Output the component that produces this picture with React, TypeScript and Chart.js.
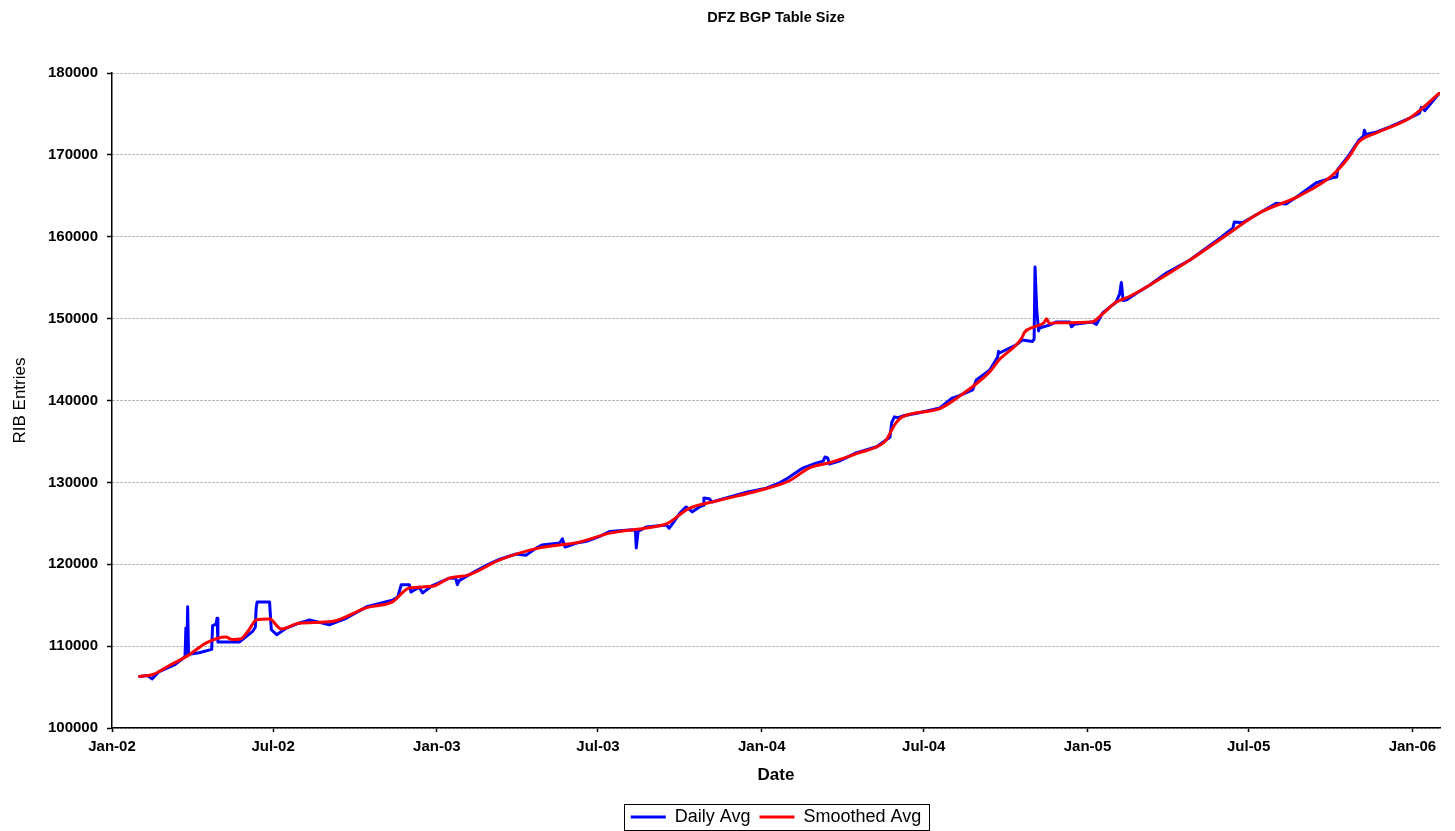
import React, { useEffect, useRef } from "react";
import { Chart, registerables } from "chart.js";

Chart.register(...registerables);

const titleText = "DFZ BGP Table Size";
const seriesNames = ["Daily Avg", "Smoothed Avg"];

const tickDates = [
  "2002-01-01", "2002-07-01", "2003-01-01", "2003-07-01", "2004-01-01",
  "2004-07-01", "2005-01-01", "2005-07-01", "2006-01-01",
];
const tickLabels = [
  "Jan-02", "Jul-02", "Jan-03", "Jul-03", "Jan-04", "Jul-04", "Jan-05", "Jul-05", "Jan-06",
];

const dailyDates = [
  "2002-02-01", "2002-02-10", "2002-02-15", "2002-02-23", "2002-03-12", "2002-03-24", "2002-03-25", "2002-03-26",
  "2002-03-27", "2002-03-28", "2002-04-09", "2002-04-23", "2002-04-24", "2002-04-28", "2002-04-29", "2002-04-30",
  "2002-05-24", "2002-06-08", "2002-06-11", "2002-06-12", "2002-06-13", "2002-06-27", "2002-06-29", "2002-07-05",
  "2002-07-16", "2002-07-30", "2002-08-11", "2002-08-22", "2002-09-02", "2002-09-21", "2002-10-14", "2002-11-12",
  "2002-11-18", "2002-11-22", "2002-12-01", "2002-12-03", "2002-12-12", "2002-12-16", "2002-12-27",
  "2003-01-15", "2003-01-22", "2003-01-24", "2003-01-26", "2003-02-06", "2003-02-26", "2003-03-12", "2003-03-31",
  "2003-04-11", "2003-04-23", "2003-04-29", "2003-05-19", "2003-05-22", "2003-05-25", "2003-06-07", "2003-06-18",
  "2003-07-03", "2003-07-14", "2003-08-09", "2003-08-12", "2003-08-13", "2003-08-15", "2003-08-24", "2003-09-16",
  "2003-09-19", "2003-09-23", "2003-10-01", "2003-10-08", "2003-10-15", "2003-10-23", "2003-10-27", "2003-10-28",
  "2003-11-03", "2003-11-06", "2003-11-22", "2003-12-15",
  "2004-01-06", "2004-01-21", "2004-01-30", "2004-02-16", "2004-03-02", "2004-03-10", "2004-03-12", "2004-03-15",
  "2004-03-17", "2004-03-28", "2004-04-16", "2004-05-09", "2004-05-20", "2004-05-24", "2004-05-26", "2004-05-29",
  "2004-06-02", "2004-06-07", "2004-06-26", "2004-07-19", "2004-08-02", "2004-08-10", "2004-08-25", "2004-08-29",
  "2004-09-13", "2004-09-22", "2004-09-23", "2004-09-24", "2004-10-13", "2004-10-20", "2004-10-31", "2004-11-02",
  "2004-11-03", "2004-11-04", "2004-11-05", "2004-11-07", "2004-11-08", "2004-11-19", "2004-11-27", "2004-12-12",
  "2004-12-14", "2004-12-17",
  "2005-01-06", "2005-01-11", "2005-01-18", "2005-02-02", "2005-02-06", "2005-02-08", "2005-02-10", "2005-02-14",
  "2005-02-25", "2005-03-12", "2005-03-31", "2005-04-26", "2005-05-27", "2005-06-06", "2005-06-13", "2005-06-15",
  "2005-06-24", "2005-07-13", "2005-08-01", "2005-08-12", "2005-08-27", "2005-09-15", "2005-10-03", "2005-10-08",
  "2005-10-09", "2005-10-22", "2005-11-02", "2005-11-07", "2005-11-08", "2005-11-10", "2005-11-22", "2005-12-06",
  "2005-12-29",
  "2006-01-09", "2006-01-11", "2006-01-15", "2006-01-31",
];
const dailyValues = [
  106300, 106400, 106000, 106900, 107700, 108700, 112200, 109000,
  114800, 109000, 109200, 109600, 112500, 112700, 113400, 110500,
  110500, 111800, 112300, 114700, 115400, 115400, 112000, 111400,
  112200, 112800, 113200, 112900, 112600, 113400, 114800, 115600,
  116000, 117500, 117500, 116600, 117200, 116500, 117400,
  118300, 118300, 117500, 118000, 118700, 119900, 120600, 121250,
  121100, 122000, 122350, 122600, 123100, 122100, 122600, 122800,
  123400, 124000, 124200, 124100, 122000, 124000, 124550, 124800,
  124400, 125000, 126250, 127000, 126400, 127000, 127200, 128100,
  128000, 127600, 128100, 128800,
  129300, 129950, 130500, 131750, 132350, 132600, 133100, 133000,
  132250, 132600, 133600, 134350, 135200, 135500, 137300, 138000,
  137900, 138100, 138500, 139100, 140300, 140600, 141300, 142500,
  143700, 145300, 146000, 145800, 146800, 147400, 147200, 147500,
  156300, 156300, 151000, 148500, 148850, 149200, 149600, 149600,
  149000, 149300,
  149600, 149300, 150700, 152000, 153000, 154400, 152200, 152300,
  153100, 154100, 155600, 157150, 159600, 160450, 161000, 161800,
  161700, 162900, 164100, 164000, 165100, 166600, 167200, 167300,
  168200, 170000, 171800, 172300, 173000, 172500, 172800, 173400,
  174500,
  175100, 175800, 175400, 177500,
];

const smoothDates = [
  "2002-02-01", "2002-02-15", "2002-03-06", "2002-03-28", "2002-04-17", "2002-05-09", "2002-05-16", "2002-05-26",
  "2002-06-04", "2002-06-12", "2002-06-27", "2002-07-10", "2002-07-30", "2002-09-05", "2002-10-14", "2002-11-12",
  "2002-12-01", "2002-12-27", "2003-01-15", "2003-02-06", "2003-03-12", "2003-04-26", "2003-06-10", "2003-07-14",
  "2003-08-28", "2003-09-17", "2003-10-11", "2003-11-14", "2003-12-29", "2004-02-01", "2004-02-24", "2004-03-17",
  "2004-04-19", "2004-05-12", "2004-05-20", "2004-05-26", "2004-05-31", "2004-06-07", "2004-07-19", "2004-08-10",
  "2004-09-13", "2004-09-24", "2004-10-13", "2004-10-20", "2004-10-22", "2004-11-02", "2004-11-13", "2004-11-16",
  "2004-11-19", "2004-11-27", "2005-01-06", "2005-01-18", "2005-02-02", "2005-02-17", "2005-03-12", "2005-04-26",
  "2005-06-10", "2005-07-13", "2005-08-27", "2005-10-03", "2005-10-22", "2005-11-02", "2005-11-22", "2005-12-29",
  "2006-01-31",
];
const smoothValues = [
  106300, 106500, 107600, 108900, 110400, 111100, 110800, 110900,
  112000, 113200, 113300, 112100, 112800, 113000, 114700, 115400,
  117100, 117300, 118300, 118700, 120500, 122000, 122700, 123800,
  124500, 125000, 126800, 127800, 129000, 130200, 131800, 132400,
  133600, 134500, 135200, 136400, 137300, 138000, 139000, 140500,
  143500, 145000, 146800, 147800, 148300, 149000, 149500, 150000,
  149400, 149500, 149600, 150600, 152000, 152700, 154100, 157150,
  160500, 162900, 165000, 167500, 169800, 171600, 172700, 174500,
  177500,
];

const yMin = 100000;
const yMax = 180000;
const yStep = 10000;
const axisEndDate = "2006-02-01";

const toDay = (s: string) => {
  const [y, m, d] = s.split("-").map(Number);
  return (Date.UTC(y, m - 1, d) - Date.UTC(2002, 0, 1)) / 86400000;
};

const legendBorder = {
  id: "legendBorder",
  afterDraw(chart: any) {
    const hb = chart.legend && chart.legend.legendHitBoxes;
    if (!hb || !hb.length) return;
    const first = hb[0];
    const last = hb[hb.length - 1];
    const ctx = chart.ctx;
    ctx.save();
    ctx.strokeStyle = "#000";
    ctx.lineWidth = 1;
    const left = Math.round(first.left - 7) + 0.5;
    const top = Math.round(first.top - 4) + 0.5;
    const right = Math.round(last.left + last.width + 8) + 0.5;
    ctx.strokeRect(left, top, right - left, 26);
    ctx.restore();
  },
};

export default function App() {
  const ref = useRef<HTMLCanvasElement>(null);

  useEffect(() => {
    Chart.defaults.font.family = "'Liberation Sans', Arial, sans-serif";
    Chart.defaults.color = "#000";
    const chart = new Chart(ref.current as HTMLCanvasElement, {
      type: "line",
      data: {
        datasets: [
          {
            label: seriesNames[0],
            data: dailyDates.map((d, i) => ({ x: toDay(d), y: dailyValues[i] })),
            borderColor: "#0000ff",
            backgroundColor: "#0000ff",
            borderWidth: 3,
            borderJoinStyle: "round",
            borderCapStyle: "round",
            pointRadius: 0,
            tension: 0,
            fill: false,
            order: 1,
          },
          {
            label: seriesNames[1],
            data: smoothDates.map((d, i) => ({ x: toDay(d), y: smoothValues[i] })),
            borderColor: "#ff0000",
            backgroundColor: "#ff0000",
            borderWidth: 3,
            borderJoinStyle: "round",
            borderCapStyle: "round",
            pointRadius: 0,
            cubicInterpolationMode: "monotone",
            fill: false,
            order: 0,
          },
        ],
      },
      options: {
        animation: false,
        responsive: false,
        devicePixelRatio: 1,
        layout: { padding: { left: 6, right: 15, top: 0, bottom: 0 } },
        plugins: {
          tooltip: { enabled: false },
          title: {
            display: true,
            text: titleText,
            color: "#000",
            font: { size: 14.5, weight: "bold" },
            padding: { top: 9, bottom: 46.6 },
            fullSize: false,
          },
          legend: {
            position: "bottom",
            fullSize: false,
            labels: {
              color: "#000",
              font: { size: 18 },
              boxWidth: 35,
              boxHeight: 3,
              padding: 9,
              sort: (a: any, b: any) => a.datasetIndex - b.datasetIndex,
              generateLabels: (c: any) =>
                (Chart.defaults.plugins.legend.labels.generateLabels as any)(c).map((l: any) => ({
                  ...l,
                  lineWidth: 0,
                })),
            },
          },
        },
        scales: {
          x: {
            type: "linear",
            min: 0,
            max: toDay(axisEndDate),
            afterBuildTicks: (s: any) => {
              s.ticks = tickDates.map((d) => ({ value: toDay(d) }));
            },
            afterFit: (s: any) => {
              s.height = 71;
            },
            ticks: {
              autoSkip: false,
              maxRotation: 0,
              minRotation: 0,
              padding: 6,
              color: "#000",
              font: { size: 15, weight: "bold" },
              callback: (_v: any, i: number) => tickLabels[i],
            },
            grid: {
              drawOnChartArea: false,
              drawTicks: true,
              tickLength: 4,
              tickColor: "#000",
              tickWidth: 1.5,
            },
            border: { color: "#000", width: 1.5 },
            title: {
              display: true,
              text: "Date",
              color: "#000",
              font: { size: 17, weight: "bold" },
              padding: { top: 0, bottom: 13.8 },
            },
          },
          y: {
            min: yMin,
            max: yMax,
            afterFit: (s: any) => {
              s.width = 106;
            },
            ticks: {
              stepSize: yStep,
              padding: 9,
              color: "#000",
              font: { size: 15, weight: "bold" },
              callback: (v: any) => String(v),
            },
            grid: {
              color: "#9a9a9a",
              lineWidth: 1,
              tickLength: 5,
              tickColor: "#000",
              tickWidth: 1.5,
              tickBorderDash: [],
            },
            border: { color: "#000", width: 1.5, dash: [2, 2] },
            title: {
              display: true,
              text: "RIB Entries",
              color: "#000",
              font: { size: 17, weight: "normal" },
              padding: { top: 3.8, bottom: 0 },
            },
          },
        },
      } as any,
      plugins: [legendBorder],
    });
    return () => chart.destroy();
  }, []);

  return (
    <div
      style={{
        position: "fixed",
        left: 0,
        top: 0,
        width: 1455,
        height: 831,
        overflow: "hidden",
        background: "#fff",
      }}
    >
      <canvas ref={ref} width={1455} height={836} style={{ display: "block" }} />
    </div>
  );
}
